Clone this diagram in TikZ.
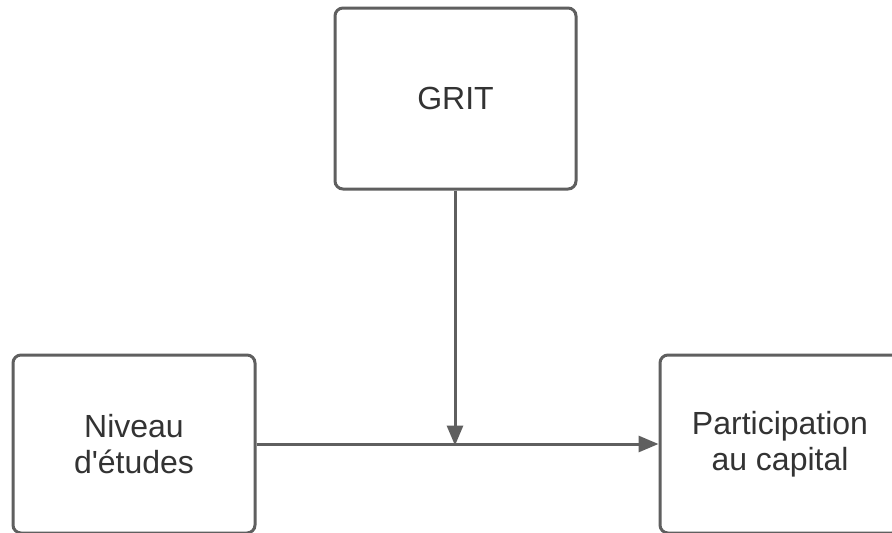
\documentclass[tikz,border=0pt]{standalone}
\usepackage{fontspec}
\setmainfont{Liberation Sans}
\usetikzlibrary{arrows.meta}
\definecolor{linegray}{HTML}{5F5F5F}
\definecolor{textgray}{HTML}{333333}
\begin{document}
\begin{tikzpicture}[x=1pt,y=-1pt,
  boxstyle/.style={draw=linegray, line width=3pt, rounded corners=8pt, fill=white,
    text=textgray, align=center, inner sep=0pt,
    font=\fontsize{32}{36}\selectfont},
  conn/.style={draw=linegray, line width=3pt, -{Triangle[length=20pt,width=16pt]}}]
\useasboundingbox (0,0) rectangle (892,533);
\clip (0,0) rectangle (892,533);
\fill[white] (0,0) rectangle (892,533);
\node[boxstyle, minimum width=241pt, minimum height=181pt] (grit) at (455.5,98.5) {GRIT};
\node[boxstyle, minimum width=242pt, minimum height=178pt] (niv) at (134,444) {Niveau\\d\textquotesingle études};
\node[boxstyle, minimum width=240pt, minimum height=178pt] (part) at (780,444) {Participation\\au capital};
\coordinate (meet) at (455,444);
\draw[conn] (niv.east) -- (part.west);
\draw[conn] (grit.south -| meet) -- ([yshift=-1.5pt]meet);
\end{tikzpicture}
\end{document}
